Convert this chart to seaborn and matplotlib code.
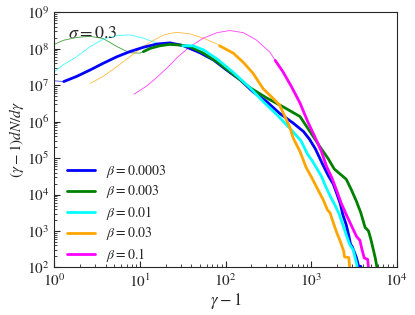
import matplotlib
matplotlib.use("Agg")
import matplotlib.pyplot as plt
from matplotlib.ticker import LogLocator, NullFormatter
import numpy as np
import pandas as pd
import seaborn as sns

# values as log10(gamma - 1) / log10((gamma - 1) dN/dgamma)
labels = [r"$\beta=0.0003$", r"$\beta=0.003$", r"$\beta=0.01$", r"$\beta=0.03$", r"$\beta=0.1$"]
colors = ["#0000ff", "#008000", "#00ffff", "#ffa500", "#ff00ff"]

# thin (fitted) part of each curve
thin_lx = [
    [0.0, 0.11],
    [0.0, 0.105, 0.26, 0.42, 0.57, 0.73, 0.88, 1.0, 1.05],
    [0.0, 0.105, 0.26, 0.42, 0.57, 0.73, 0.88, 1.04, 1.20, 1.35, 1.50],
    [0.42, 0.57, 0.73, 0.88, 1.04, 1.12, 1.20, 1.27, 1.35, 1.43, 1.58, 1.74, 1.90, 1.93],
    [0.93, 1.08, 1.20, 1.35, 1.43, 1.58, 1.74, 1.90, 2.05, 2.21, 2.36, 2.52, 2.58],
]
thin_ly = [
    [7.12, 7.10],
    [8.12, 8.23, 8.31, 8.34, 8.28, 8.06, 7.89, 7.88, 7.93],
    [7.37, 7.56, 7.78, 8.06, 8.26, 8.36, 8.38, 8.29, 8.15, 8.10, 8.08],
    [7.05, 7.24, 7.51, 7.78, 8.06, 8.18, 8.28, 8.37, 8.42, 8.45, 8.41, 8.29, 8.13, 8.08],
    [6.75, 6.98, 7.22, 7.55, 7.75, 8.05, 8.29, 8.44, 8.50, 8.44, 8.24, 7.90, 7.68],
]

# thick (simulation) part of each curve
thick_lx = [
    [0.11, 0.26, 0.42, 0.57, 0.73, 0.88, 1.04, 1.20, 1.35, 1.50, 1.70, 1.86, 2.01, 2.17,
     2.32, 2.48, 2.63, 2.79, 2.91, 2.98, 3.05, 3.13, 3.20, 3.26, 3.30, 3.34, 3.37, 3.41,
     3.44, 3.46, 3.48, 3.50, 3.53, 3.555, 3.58, 3.585],
    [1.04, 1.12, 1.23, 1.35, 1.47, 1.58, 1.74, 1.90, 2.09, 2.28, 2.48, 2.67, 2.87, 3.00,
     3.10, 3.20, 3.27, 3.34, 3.41, 3.47, 3.53, 3.58, 3.63, 3.67, 3.70, 3.73, 3.75, 3.77],
    [1.50, 1.62, 1.74, 1.90, 2.09, 2.28, 2.44, 2.60, 2.75, 2.88, 2.96, 3.02, 3.07, 3.12,
     3.17, 3.22, 3.28, 3.33, 3.37, 3.41, 3.45, 3.49, 3.51, 3.53, 3.54],
    [1.93, 2.09, 2.21, 2.32, 2.44, 2.52, 2.63, 2.75, 2.79, 2.87, 2.94, 3.01, 3.08, 3.14,
     3.19, 3.22, 3.26, 3.30, 3.34, 3.38, 3.39, 3.44, 3.45],
    [2.58, 2.67, 2.77, 2.87, 2.96, 3.06, 3.12, 3.18, 3.24, 3.30, 3.35, 3.41, 3.47, 3.53,
     3.57, 3.59, 3.62, 3.66, 3.67],
]
thick_ly = [
    [7.10, 7.24, 7.42, 7.60, 7.78, 7.92, 8.04, 8.13, 8.16, 8.09, 7.89, 7.69, 7.42, 7.15,
     6.82, 6.55, 6.23, 5.96, 5.73, 5.52, 5.25, 4.85, 4.52, 4.28, 4.02, 3.75, 3.45, 3.17,
     2.87, 2.64, 2.57, 2.45, 2.26, 2.03, 2.03, 1.90],
    [7.92, 8.01, 8.08, 8.12, 8.10, 8.06, 7.88, 7.64, 7.30, 6.94, 6.65, 6.41, 6.14, 5.68,
     5.32, 4.98, 4.70, 4.56, 4.42, 4.13, 3.81, 3.50, 3.10, 3.00, 2.75, 2.45, 2.25, 1.99],
    [8.08, 8.08, 7.97, 7.72, 7.35, 6.94, 6.55, 6.19, 5.82, 5.48, 5.10, 4.90, 4.70, 4.50,
     4.22, 3.97, 3.70, 3.45, 3.17, 2.90, 2.63, 2.49, 2.30, 2.12, 1.99],
    [8.08, 7.88, 7.62, 7.33, 6.90, 6.72, 6.46, 5.85, 5.55, 5.18, 4.75, 4.45, 4.13, 3.86,
     3.58, 3.50, 3.22, 2.95, 2.72, 2.45, 2.29, 2.27, 1.99],
    [7.68, 7.37, 6.96, 6.51, 6.00, 5.50, 5.18, 4.77, 4.47, 4.10, 3.77, 3.45, 3.15, 2.85,
     2.74, 2.53, 2.26, 2.22, 1.99],
]


def build_frame(lx_lists, ly_lists):
    rows = []
    for label, lx, ly in zip(labels, lx_lists, ly_lists):
        for a, b in zip(lx, ly):
            rows.append({"g": 10 ** a, "n": 10 ** b, "beta": label})
    return pd.DataFrame(rows)


thin_df = build_frame(thin_lx, thin_ly)
thick_df = build_frame(thick_lx, thick_ly)

sns.set_style("ticks")
plt.rcParams["font.family"] = "STIXGeneral"
plt.rcParams["mathtext.fontset"] = "stix"

fig, ax = plt.subplots(figsize=(4.15, 3.15), dpi=100)
fig.subplots_adjust(left=0.131, right=0.956, bottom=0.151, top=0.961)

ax.set_xscale("log")
ax.set_yscale("log")

palette = dict(zip(labels, colors))

sns.lineplot(data=thin_df, x="g", y="n", hue="beta", hue_order=labels, palette=palette,
             estimator=None, sort=False, lw=0.6, alpha=0.75, legend=False, ax=ax)
sns.lineplot(data=thick_df, x="g", y="n", hue="beta", hue_order=labels, palette=palette,
             estimator=None, sort=False, lw=2.0, ax=ax)

ax.set_xlim(1, 1e4)
ax.set_ylim(1e2, 1e9)

ax.xaxis.set_major_locator(LogLocator(base=10, numticks=10))
ax.xaxis.set_minor_locator(LogLocator(base=10, subs=np.arange(2, 10), numticks=100))
ax.yaxis.set_major_locator(LogLocator(base=10, numticks=20))
ax.yaxis.set_minor_locator(LogLocator(base=10, subs=np.arange(2, 10), numticks=100))
ax.xaxis.set_minor_formatter(NullFormatter())
ax.yaxis.set_minor_formatter(NullFormatter())
ax.tick_params(which="both", direction="in", labelsize=11)
ax.tick_params(which="major", length=4)
ax.tick_params(which="minor", length=2)

ax.set_xlabel(r"$\gamma-1$", fontsize=12, labelpad=1)
ax.set_ylabel(r"$(\gamma-1)dN/d\gamma$", fontsize=11, labelpad=1)

ax.text(0.04, 0.945, r"$\sigma=0.3$", transform=ax.transAxes, fontsize=13, va="top", ha="left")

handles, _ = ax.get_legend_handles_labels()
ax.legend(handles=handles, labels=labels, loc="lower left", bbox_to_anchor=(0.0, -0.035),
          frameon=False, fontsize=10, handlelength=2.0, handletextpad=0.8, labelspacing=0.25)

plt.savefig("out.png", dpi=100)
